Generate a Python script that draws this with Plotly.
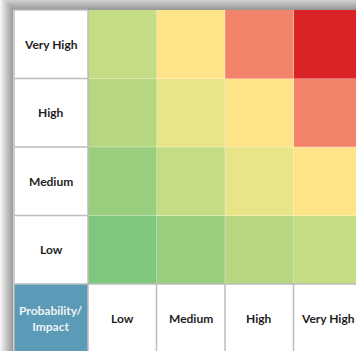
import plotly.graph_objects as go

# Risk matrix data
probability = ["Low", "Medium", "High", "Very High"]   # rows, bottom to top
impact = ["Low", "Medium", "High", "Very High"]        # columns, left to right
prob_level = [1, 2, 3, 4]
impact_level = [1, 2, 3, 4]
corner_label = "Probability/<br>Impact"

# risk score = probability level x impact level
z = [[p * i for i in impact_level] for p in prob_level]

# colour for each possible score
scores = [1, 2, 3, 4, 6, 8, 9, 12, 16]
score_colors = ["#7EC77C", "#98CE7E", "#B6D680", "#C4DC84", "#E8E589",
                "#FEE388", "#FEE388", "#F3826A", "#DA2327"]

W, H = 356, 351
CELL = 68.5
GRID_LEFT = 88.0   # px, left edge of the coloured grid
GRID_TOP = 10.0    # px, top edge of the table
TABLE_LEFT = 14.0  # px, left edge of the label column


def dx(px):
    return (px - GRID_LEFT) / CELL - 0.5


def dy(py):
    return 3.5 - (py - GRID_TOP) / CELL


zmin, zmax = min(scores), max(scores)
colorscale = [[(s - zmin) / (zmax - zmin), c] for s, c in zip(scores, score_colors)]

fig = go.Figure()
fig.add_trace(go.Heatmap(
    z=z, x=list(range(len(impact))), y=list(range(len(probability))),
    colorscale=colorscale, zmin=zmin, zmax=zmax, showscale=False,
    hoverinfo="skip",
))

shapes = []
# soft drop shadow around the table
N = 12
for k in range(1, N + 1):
    shapes.append(dict(
        type="rect", layer="below", xref="x", yref="y",
        x0=dx(TABLE_LEFT - k * 14 / N), x1=dx(W + 40),
        y0=dy(GRID_TOP - k * 15 / N), y1=dy(H + 40),
        fillcolor="rgba(0,0,0,0.038)", line=dict(width=0),
    ))
# white table body
shapes.append(dict(
    type="rect", layer="below", xref="x", yref="y",
    x0=dx(TABLE_LEFT - 1), x1=dx(W + 40), y0=dy(GRID_TOP), y1=dy(H + 40),
    fillcolor="white", line=dict(width=0),
))
# corner header cell
shapes.append(dict(
    type="rect", layer="below", xref="x", yref="y",
    x0=dx(TABLE_LEFT), x1=-0.5, y0=-0.5, y1=-1.5 - 1,
    fillcolor="#5B9BB7", line=dict(width=0),
))

GRAY = "#BDBDBD"


def seg(x0, y0, x1, y1, color=GRAY, width=1.5):
    shapes.append(dict(type="line", xref="x", yref="y", x0=x0, y0=y0,
                       x1=x1, y1=y1, line=dict(color=color, width=width)))


# faint separators inside the coloured grid
for i in range(1, len(impact)):
    seg(i - 0.5, -0.5, i - 0.5, 3.5, "rgba(255,255,255,0.35)", 1)
for j in range(1, len(probability)):
    seg(-0.5, j - 0.5, 4, j - 0.5, "rgba(255,255,255,0.35)", 1)

# cell borders of the label column and header row
for j in range(1, len(probability)):
    seg(dx(TABLE_LEFT), j - 0.5, -0.5, j - 0.5)
seg(dx(TABLE_LEFT), -0.5, 4, -0.5)
seg(-0.5, -2, -0.5, 3.5)
for i in range(1, len(impact)):
    seg(i - 0.5, -2, i - 0.5, -0.5)
seg(dx(TABLE_LEFT), -2, dx(TABLE_LEFT), 3.5)
seg(dx(TABLE_LEFT), 3.5, -0.5, 3.5)

annotations = []
FONT = "Lato, 'Open Sans', sans-serif"
label_x = dx((TABLE_LEFT + GRID_LEFT) / 2)
for j, name in enumerate(probability):
    annotations.append(dict(x=label_x, y=j, xref="x", yref="y", text=f"<b>{name}</b>",
                            showarrow=False, font=dict(family=FONT, size=12, color="#1E1E1E")))
for i, name in enumerate(impact):
    annotations.append(dict(x=i, y=-1, xref="x", yref="y", text=f"<b>{name}</b>",
                            showarrow=False, font=dict(family=FONT, size=12, color="#1E1E1E")))
annotations.append(dict(x=label_x, y=-1, xref="x", yref="y", text=f"<b>{corner_label}</b>",
                        showarrow=False, align="center",
                        font=dict(family=FONT, size=12, color="#EEF3F6")))

fig.update_layout(
    width=W, height=H, margin=dict(l=0, r=0, t=0, b=0),
    paper_bgcolor="white", plot_bgcolor="white",
    xaxis=dict(range=[dx(0), dx(W)], visible=False, fixedrange=True),
    yaxis=dict(range=[dy(H), dy(0)], visible=False, fixedrange=True),
    shapes=shapes, annotations=annotations, showlegend=False,
)

fig.write_html("out.html")
